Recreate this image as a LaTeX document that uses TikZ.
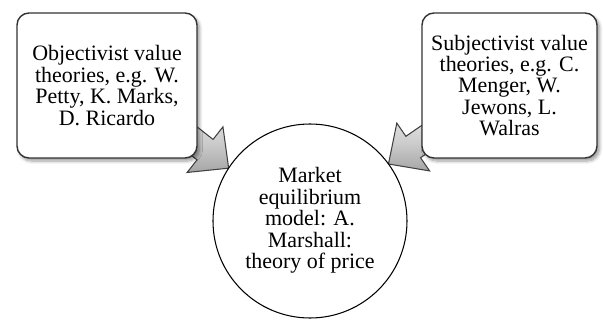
\documentclass[tikz,border=0pt]{standalone}
\usepackage{fontspec}
\setmainfont{Liberation Serif}
\usetikzlibrary{calc,backgrounds,shadows.blur}

\begin{document}
\begin{tikzpicture}[
  font=\fontsize{12.5}{12.2}\selectfont,
  theory/.style={draw=black!80,line width=0.8pt,rounded corners=0.24cm,fill=white,
    align=center,minimum height=2.9cm,inner sep=0pt,
    blur shadow={shadow xshift=0.05cm,shadow yshift=-0.06cm,shadow blur steps=6,shadow opacity=40}},
  model/.style={draw=black,line width=0.6pt,circle,fill=white,align=center,
    minimum size=3.88cm,inner sep=0pt,outer sep=0pt},
  blk/.style={draw=black!75,line width=0.6pt,top color=gray!20,bottom color=gray!70,
    middle color=gray!40,line join=miter}
]
\useasboundingbox (0,0) rectangle (12.06,6.4);

% ---- the three blocks ----
\node[theory,minimum width=3.6cm] (obj) at (2.14,4.69)
  {Objectivist value\\ theories, e.g. W.\\ Petty, K. Marks,\\ D. Ricardo};
\node[theory,minimum width=3.5cm] (subj) at (10.19,4.69)
  {Subjectivist value\\ theories, e.g. C.\\ Menger, W.\\ Jewons, L.\\ Walras};
\node[model] (market) at (6.2,1.98)
  {\\[-4pt]Market\\ equilibrium\\ model: A.\\ Marshall:\\ theory of price};

% arrow tails, hidden under the boxes
\coordinate (objtail) at ($(obj.south east)+(-0.54,0.72)$);
\coordinate (subjtail) at ($(subj.south west)+(0.46,0.66)$);

% ---- block arrows ----
\newcommand{\blockarr}[2]{%
  \coordinate (hb) at ($(#2)!0.6cm!(#1)$);
  \draw[blk] ($(#1)!0.26cm!90:(#2)$) -- ($(hb)!0.26cm!90:(#2)$)
    -- ($(hb)!0.58cm!90:(#2)$) -- (#2) -- ($(hb)!0.58cm!-90:(#2)$)
    -- ($(hb)!0.26cm!-90:(#2)$) -- ($(#1)!0.26cm!-90:(#2)$) -- cycle;
}

\begin{scope}[on background layer]
\blockarr{objtail}{market.147}
\blockarr{subjtail}{market.36}
\end{scope}

\end{tikzpicture}
\end{document}
